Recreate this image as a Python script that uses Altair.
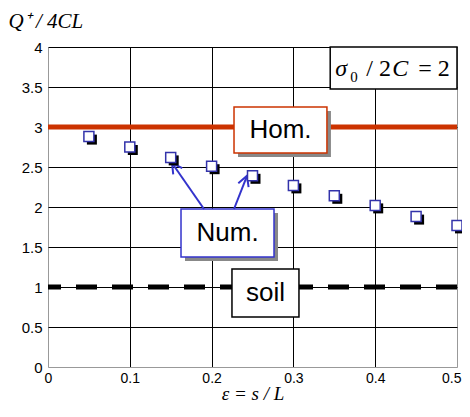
import altair as alt
import pandas as pd

# ---- data ----
eps = [0.05, 0.10, 0.15, 0.20, 0.25, 0.30, 0.35, 0.40, 0.45, 0.50]
num = [2.88, 2.75, 2.62, 2.51, 2.39, 2.27, 2.14, 2.02, 1.88, 1.77]
hom_value = [3.0]
soil_value = [1.0]
x_ticks = [0, 0.1, 0.2, 0.3, 0.4, 0.5]
y_ticks = [0, 0.5, 1, 1.5, 2, 2.5, 3, 3.5, 4]

# annotation boxes (data units)
box_name = ["sigma", "hom", "num", "soil"]
box_x1 = [0.345, 0.2274, 0.1626, 0.2249]
box_x2 = [0.500, 0.3410, 0.2763, 0.3068]
box_y1 = [3.475, 2.675, 1.375, 0.625]
box_y2 = [4.000, 3.250, 1.975, 1.225]
box_color = ["black", "#cc3300", "#3333cc", "black"]
box_shadow = [False, True, True, False]

label_text = ["Hom.", "Num.", "soil"]
label_x = [0.2842, 0.2195, 0.2659]
label_y = [2.9625, 1.675, 0.925]

arrow_x1 = [0.1907, 0.2274]
arrow_y1 = [1.975, 1.975]
arrow_x2 = [0.1516, 0.2433]
arrow_y2 = [2.55, 2.39]
arrow_angle = [325, 21]

df_pts = pd.DataFrame({"eps": eps, "q": num})
df_box = pd.DataFrame({"name": box_name, "x1": box_x1, "x2": box_x2,
                       "y1": box_y1, "y2": box_y2, "color": box_color,
                       "shadow": box_shadow})
df_lab = pd.DataFrame({"t": label_text, "x": label_x, "y": label_y})
df_arr = pd.DataFrame({"x1": arrow_x1, "y1": arrow_y1, "x2": arrow_x2,
                       "y2": arrow_y2, "ang": arrow_angle})

xs = alt.Scale(domain=[0, 0.5], nice=False, zero=False)
ys = alt.Scale(domain=[0, 4], nice=False)

grid_color_x = {"condition": {"test": "datum.value == 0.5 || datum.value == 0", "value": "#999999"}, "value": "black"}
grid_color_y = {"condition": {"test": "datum.value == 0", "value": "#999999"}, "value": "black"}
label_align_x = {"condition": {"test": "datum.value == 0.5", "value": "right"}, "value": "center"}
label_off_x = {"condition": {"test": "datum.value == 0.5", "value": 4}, "value": 0}

x_axis = alt.Axis(values=x_ticks, format="~g", ticks=False, domain=False,
                  grid=True, gridColor=grid_color_x, gridWidth=1, gridOpacity=1,
                  labelFont="Liberation Sans", labelFontSize=14, labelColor="black",
                  labelPadding=4, labelFlush=False, labelAlign=label_align_x,
                  labelOffset=label_off_x,
                  title="ε = s / L", titleFont="Liberation Serif", titleFontStyle="italic",
                  titleFontWeight="normal", titleFontSize=19, titleColor="black",
                  titleBaseline="alphabetic", titleY=32)
y_axis = alt.Axis(values=y_ticks, format="~g", ticks=False, domain=False,
                  grid=True, gridColor=grid_color_y, gridWidth=1, gridOpacity=1,
                  labelFont="Liberation Sans", labelFontSize=15, labelColor="black",
                  labelPadding=6, labelFlush=False,
                  title="Q⁺ / 4CL", titleFont="Liberation Serif", titleFontStyle="italic",
                  titleFontWeight="normal", titleFontSize=21, titleColor="black",
                  titleAngle=0, titleAlign="left", titleBaseline="alphabetic",
                  titleX=-40, titleY=-20)

def X(f):
    return alt.X(f, type="quantitative", scale=xs, axis=x_axis)

def Y(f):
    return alt.Y(f, type="quantitative", scale=ys, axis=y_axis)

base = alt.Chart(df_pts)

hom_line = alt.Chart(pd.DataFrame({"v": hom_value})).mark_rule(
    color="#cc3300", strokeWidth=5).encode(y=Y("v"))

soil_line = alt.Chart(pd.DataFrame({"v": soil_value})).mark_rule(
    color="black", strokeWidth=5, strokeDash=[21, 15]).encode(y=Y("v"))

enc_box = dict(x=X("x1"), x2="x2:Q", y=Y("y1"), y2="y2:Q")

shadows = alt.Chart(df_box).transform_filter("datum.shadow").mark_rect(
    fill="#888888", xOffset=4, x2Offset=4, yOffset=4, y2Offset=4).encode(**enc_box)

boxes = alt.Chart(df_box).mark_rect(fill="white", strokeWidth=1.5).encode(
    stroke=alt.Stroke("color:N", scale=None), **enc_box)

labels = alt.Chart(df_lab).mark_text(font="Liberation Sans", fontSize=26,
                                     color="black", baseline="middle").encode(
    x=X("x"), y=Y("y"), text="t:N")

# sigma_0 / 2C = 2 pieces
sig_df = pd.DataFrame({"x": [0.345], "y": [3.6375]})
def piece(txt, dx, italic=False, size=24, dy=0):
    kw = dict(font="Liberation Serif", fontSize=size, align="left",
              baseline="alphabetic", dx=dx, dy=dy, color="black", text=txt)
    if italic:
        kw["fontStyle"] = "italic"
    return alt.Chart(sig_df).mark_text(**kw).encode(x=X("x"), y=Y("y"))

sigma = (piece("σ", 5, True) + piece("0", 20, False, 15, 6) + piece("/ 2", 36)
         + piece("C", 62, True) + piece("= 2", 88))

arrows = alt.Chart(df_arr).mark_rule(color="#3333cc", strokeWidth=2).encode(
    x=X("x1"), x2="x2:Q", y=Y("y1"), y2="y2:Q")
heads = alt.Chart(df_arr).mark_point(shape="M-0.55,1 L0,0 L0.55,1", size=400,
                                     color="#3333cc", strokeWidth=2, filled=False,
                                     opacity=1).encode(
    x=X("x2"), y=Y("y2"), angle=alt.Angle("ang:Q", scale=None))

pt_shadow = base.mark_square(size=100, color="black", opacity=1, xOffset=3, yOffset=3).encode(
    x=X("eps"), y=Y("q"))
pts = base.mark_square(size=100, fill="white", stroke="#3333aa", strokeWidth=1.5,
                       opacity=1, fillOpacity=1).encode(x=X("eps"), y=Y("q"))

chart = alt.layer(hom_line, soil_line, shadows, boxes, labels, sigma,
                  arrows, heads, pt_shadow, pts).properties(
    width=409, height=320,
    autosize=alt.AutoSizeParams(type="none"),
    padding={"left": 40, "top": 39, "right": 5, "bottom": 37},
).configure_view(stroke="#999999", strokeWidth=2).configure(background="white")

chart.save("out.html", embed_options={"renderer": "svg", "actions": False})
